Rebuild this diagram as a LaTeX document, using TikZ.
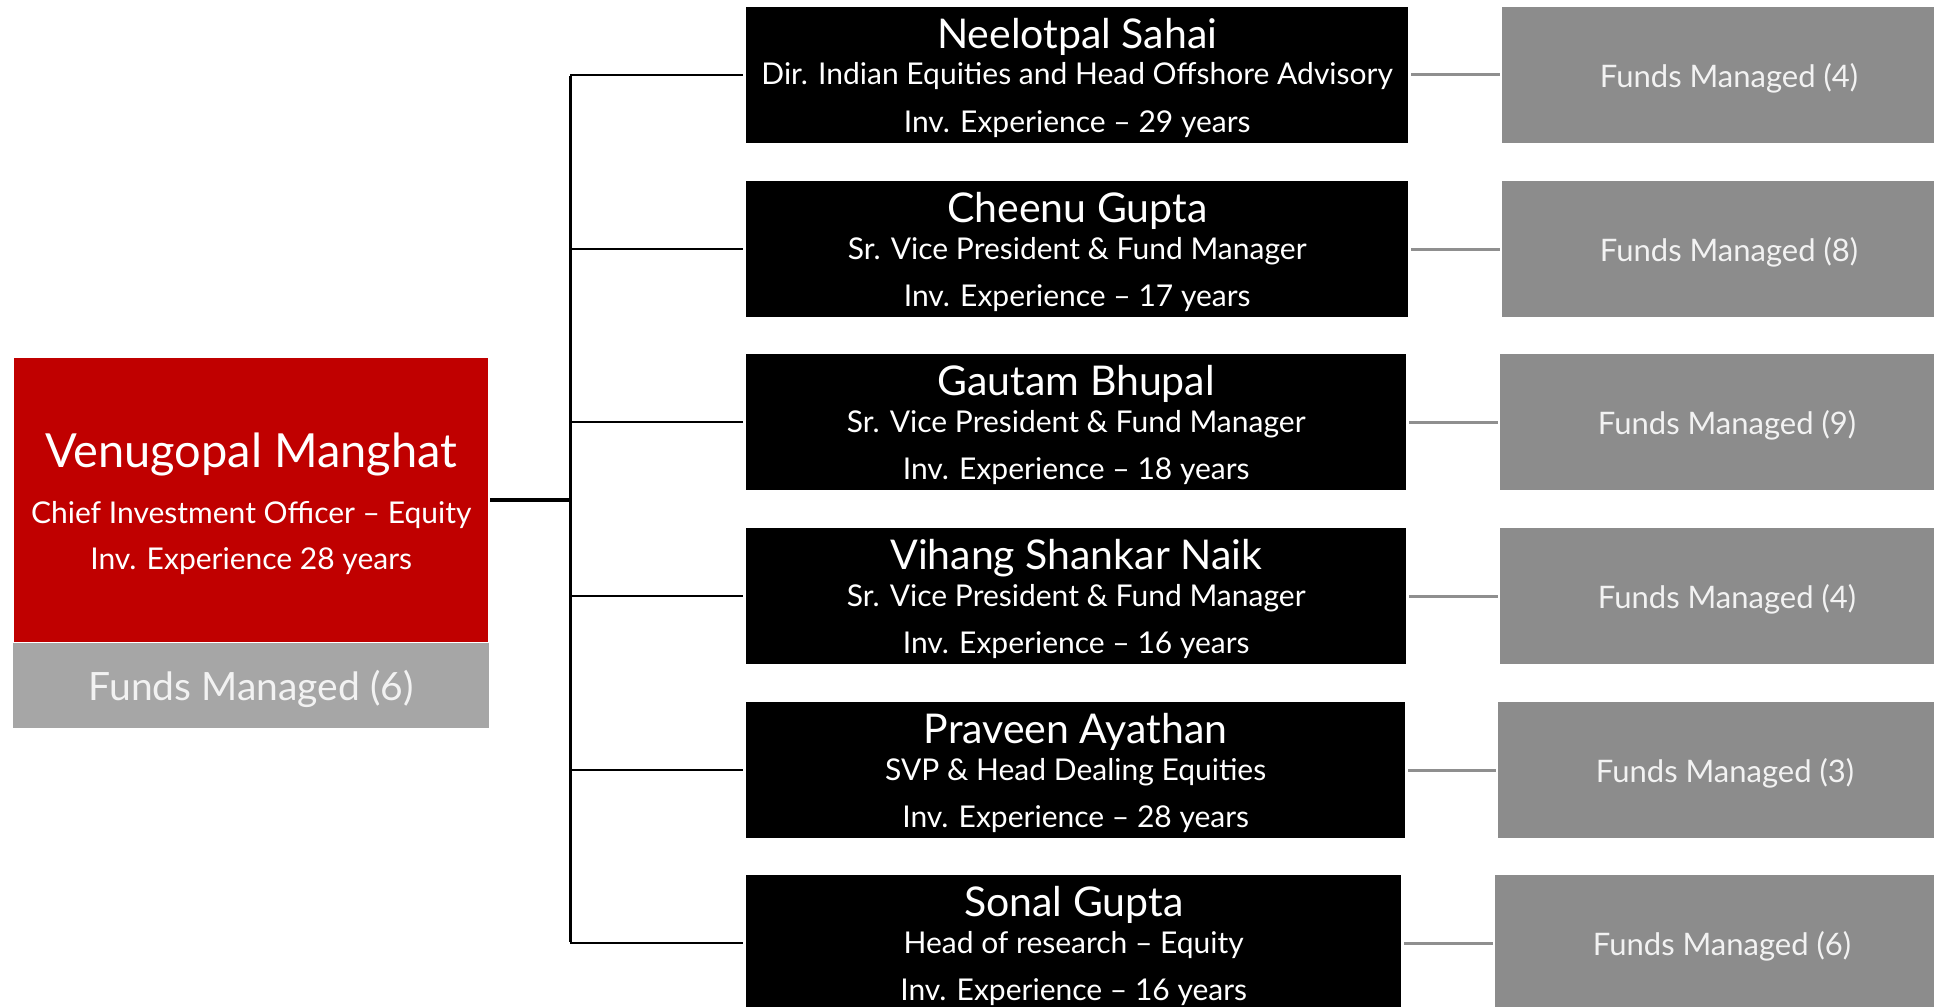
\documentclass[tikz,border=0pt]{standalone}
\usepackage{fontspec}
\setmainfont{Lato}
\definecolor{cored}{HTML}{C00000}
\definecolor{fundgray}{HTML}{8C8C8C}
\definecolor{fundlight}{HTML}{A6A6A6}
\definecolor{linegray}{HTML}{8F8F8F}
\definecolor{textwhite}{HTML}{FFFFFF}
\begin{document}
\begin{tikzpicture}[x=1pt,y=-1pt,
  personbox/.style={rectangle, fill=black, draw=none, inner sep=0pt, minimum height=136pt, anchor=west},
  fundbox/.style={rectangle, fill=fundgray, draw=none, inner sep=0pt, minimum height=136pt, minimum width=460pt, anchor=west},
  txt/.style={inner sep=0pt, text=textwhite, anchor=base},
  nametxt/.style={txt, font=\fontsize{41}{44}\selectfont},
  subtxt/.style={txt, font=\fontsize{30}{33}\selectfont},
  fundtxt/.style={txt, text=white!95!black, font=\fontsize{31}{34}\selectfont},
  busline/.style={draw=black, line width=3pt},
  branchline/.style={draw=black, line width=2.4pt},
  fundline/.style={draw=linegray, line width=3pt}
]
\useasboundingbox (0,0) rectangle (1934,1006);
\clip (0,0) rectangle (1934,1006);
\fill[white] (0,0) rectangle (1934,1006);

% chief
\node[rectangle, fill=cored, inner sep=0pt, minimum width=474pt, minimum height=284pt, anchor=north west] (cio) at (14,358) {};
\node[rectangle, fill=fundlight, inner sep=0pt, minimum width=476pt, minimum height=85pt, anchor=north west] (ciofunds) at (13,643) {};
\node[txt, font=\fontsize{47}{50}\selectfont] (cioname) at ([yshift=33pt]cio.center) {Venugopal Manghat};
\node[subtxt] (ciotitle) at ([yshift=-23.5pt]cio.center) {Chief Investment Officer – Equity};
\node[subtxt] (cioexp) at ([yshift=-69.5pt]cio.center) {Inv. Experience 28 years};
\node[txt, text=white!95!black, font=\fontsize{39}{42}\selectfont] (ciofundtxt) at ([yshift=-14.5pt]ciofunds.center) {Funds Managed (6)};

\coordinate (bustop) at (570,75);
\coordinate (busbot) at (570,943);
\coordinate (busmid) at (570,500);
\draw[busline] ([yshift=-1.5pt]bustop) -- ([yshift=1.5pt]busbot);
\draw[busline, line width=3.5pt] ([xshift=2pt]cio.east |- busmid) -- (busmid);

\foreach \i/\yc/\rx/\gx/\nm/\ttl/\ex/\fd in {
 1/75/1408/1502/Neelotpal Sahai/Dir. Indian Equities and Head Offshore Advisory/29/4,
 2/249/1408/1502/Cheenu Gupta/Sr. Vice President \& Fund Manager/17/8,
 3/422/1406/1500/Gautam Bhupal/Sr. Vice President \& Fund Manager/18/9,
 4/596/1406/1500/Vihang Shankar Naik/Sr. Vice President \& Fund Manager/16/4,
 5/770/1405/1498/Praveen Ayathan/SVP \& Head Dealing Equities/28/3,
 6/943/1401/1495/Sonal Gupta/Head of research – Equity/16/6}
{
  \pgfmathsetmacro{\bw}{\rx-746}
  \node[personbox, minimum width=\bw pt] (p\i) at (746,\yc) {};
  \node[fundbox] (f\i) at (\gx,\yc) {};
  \node[nametxt] (pn\i) at ([yshift=26.5pt]p\i.center) {\nm};
  \node[subtxt] (pt\i) at ([yshift=-10pt]p\i.center) {\ttl};
  \node[subtxt] (pe\i) at ([yshift=-57.5pt]p\i.center) {Inv. Experience – \ex\ years};
  \node[fundtxt] (ft\i) at ([xshift=227pt, yshift=-12.5pt]f\i.west) {Funds Managed (\fd)};
  \draw[branchline] (570,\yc) -- ([xshift=-3pt]p\i.west);
  \draw[fundline] ([xshift=3pt]p\i.east) -- ([xshift=-2pt]f\i.west);
}
\end{tikzpicture}
\end{document}
